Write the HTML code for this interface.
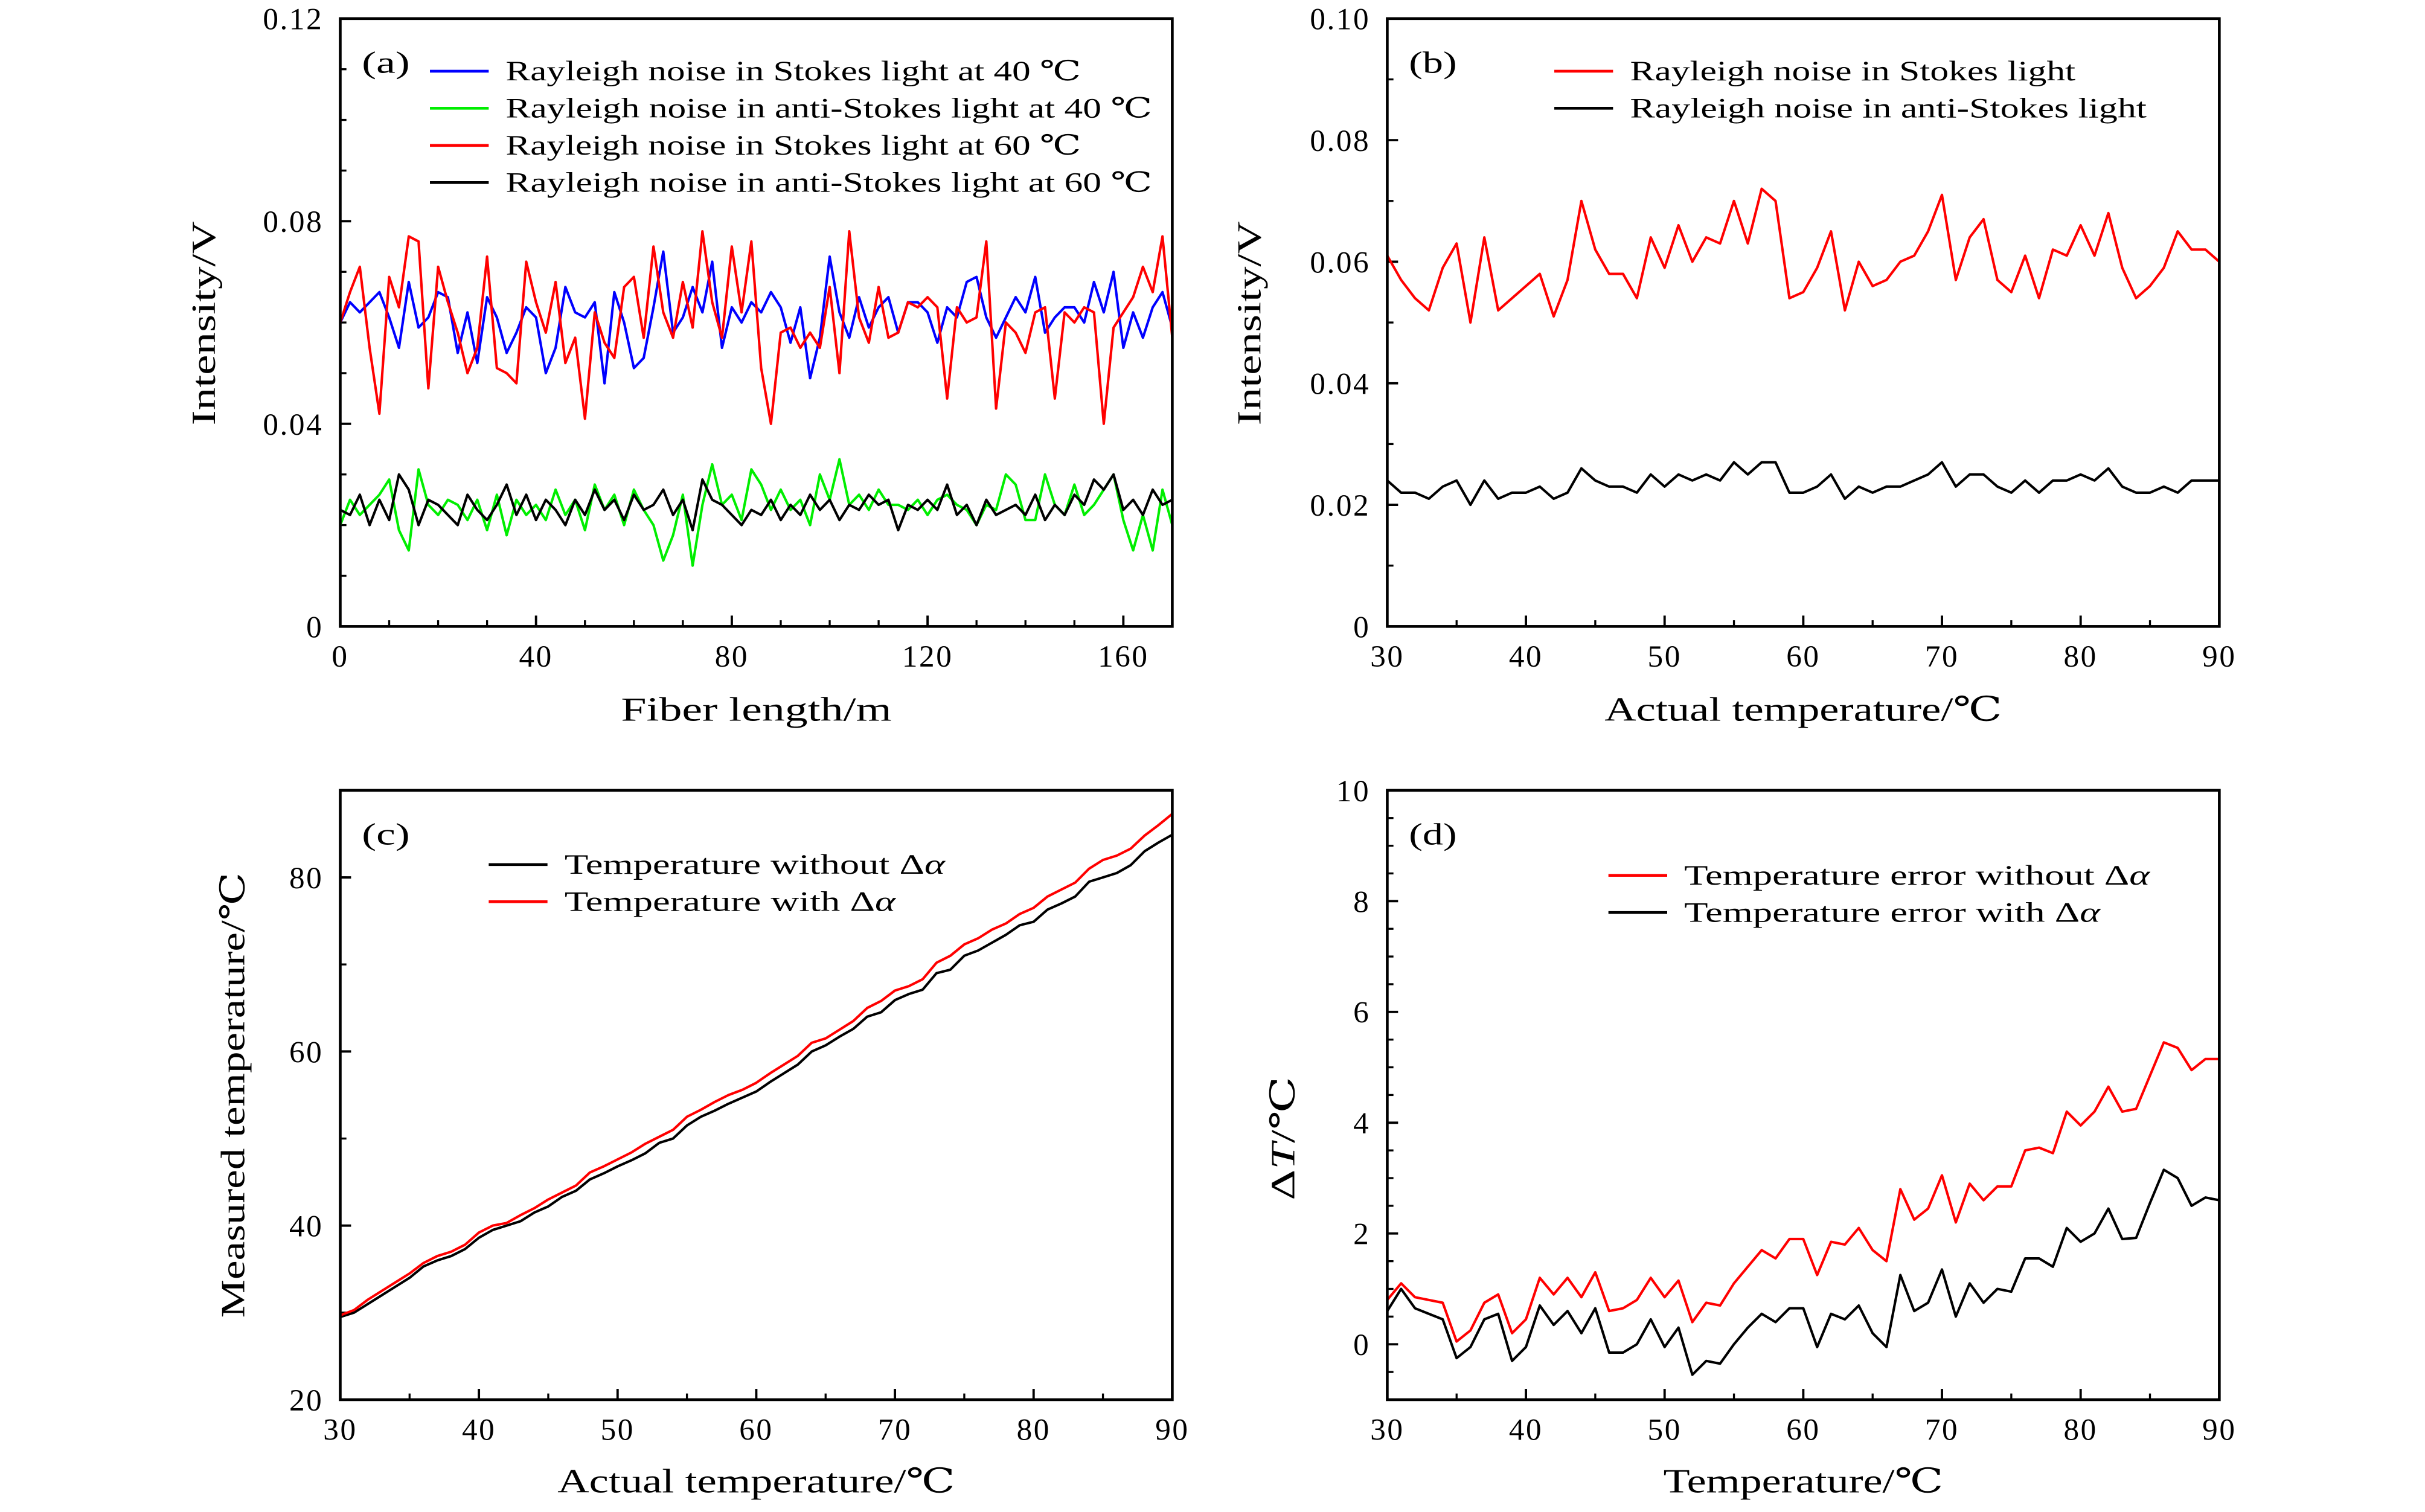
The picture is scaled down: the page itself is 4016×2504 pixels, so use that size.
<!DOCTYPE html>
<html><head><meta charset="utf-8"><style>
html,body{margin:0;padding:0;background:#fff;}
svg{display:block;}
text{font-family:"Liberation Serif","DejaVu Serif",serif;fill:#000;}
</style></head><body>
<svg id="fig" width="4016" height="2504" viewBox="0 0 1568 977.6" xmlns="http://www.w3.org/2000/svg"></svg>
<script>
// ---- Panel (a) data: fiber length 0..170 m ----
const aBlue=[0.060,0.064,0.062,0.064,0.066,0.061,0.055,0.068,0.059,0.061,0.066,0.065,0.054,0.062,0.052,0.065,0.061,0.054,0.058,0.063,0.061,0.050,0.055,0.067,0.062,0.061,0.064,0.048,0.066,0.060,0.051,0.053,0.063,0.074,0.058,0.061,0.067,0.062,0.072,0.055,0.063,0.060,0.064,0.062,0.066,0.063,0.056,0.063,0.049,0.057,0.073,0.062,0.057,0.065,0.059,0.063,0.065,0.058,0.064,0.064,0.062,0.056,0.063,0.061,0.068,0.069,0.061,0.057,0.061,0.065,0.062,0.069,0.058,0.061,0.063,0.063,0.060,0.068,0.062,0.070,0.055,0.062,0.057,0.063,0.066,0.059];
const aRed=[0.060,0.066,0.071,0.055,0.042,0.069,0.063,0.077,0.076,0.047,0.071,0.064,0.058,0.050,0.055,0.073,0.051,0.050,0.048,0.072,0.064,0.058,0.068,0.052,0.057,0.041,0.062,0.056,0.053,0.067,0.069,0.057,0.075,0.062,0.057,0.068,0.059,0.078,0.064,0.057,0.075,0.062,0.076,0.051,0.040,0.058,0.059,0.055,0.058,0.055,0.067,0.050,0.078,0.061,0.056,0.067,0.057,0.058,0.064,0.063,0.065,0.063,0.045,0.063,0.060,0.061,0.076,0.043,0.060,0.058,0.054,0.062,0.063,0.045,0.062,0.060,0.063,0.062,0.040,0.059,0.062,0.065,0.071,0.066,0.077,0.057];
const aGreen=[0.020,0.025,0.022,0.024,0.026,0.029,0.019,0.015,0.031,0.024,0.022,0.025,0.024,0.021,0.025,0.019,0.026,0.018,0.025,0.022,0.024,0.021,0.027,0.022,0.025,0.019,0.028,0.023,0.026,0.020,0.027,0.023,0.020,0.013,0.018,0.026,0.012,0.024,0.032,0.024,0.026,0.021,0.031,0.028,0.023,0.027,0.023,0.025,0.020,0.030,0.025,0.033,0.024,0.026,0.023,0.027,0.024,0.024,0.023,0.025,0.022,0.025,0.026,0.024,0.023,0.020,0.024,0.023,0.030,0.028,0.021,0.021,0.030,0.024,0.022,0.028,0.022,0.024,0.027,0.030,0.021,0.015,0.022,0.015,0.027,0.020];
const aBlack=[0.023,0.022,0.026,0.020,0.025,0.021,0.030,0.027,0.020,0.025,0.024,0.022,0.020,0.026,0.023,0.021,0.024,0.028,0.022,0.026,0.021,0.025,0.023,0.020,0.025,0.022,0.027,0.023,0.025,0.021,0.026,0.023,0.024,0.027,0.022,0.025,0.019,0.029,0.025,0.024,0.022,0.020,0.023,0.022,0.025,0.021,0.024,0.022,0.026,0.023,0.025,0.021,0.024,0.023,0.026,0.024,0.025,0.019,0.024,0.023,0.025,0.023,0.028,0.022,0.024,0.020,0.025,0.022,0.023,0.024,0.022,0.026,0.021,0.024,0.022,0.026,0.024,0.029,0.027,0.030,0.023,0.025,0.022,0.027,0.024,0.025];
const aXMax=170;
// ---- Panel (b) data: temperature 30..90 ----
const bRed=[0.061,0.057,0.054,0.052,0.059,0.063,0.050,0.064,0.052,0.054,0.056,0.058,0.051,0.057,0.070,0.062,0.058,0.058,0.054,0.064,0.059,0.066,0.060,0.064,0.063,0.070,0.063,0.072,0.070,0.054,0.055,0.059,0.065,0.052,0.060,0.056,0.057,0.060,0.061,0.065,0.071,0.057,0.064,0.067,0.057,0.055,0.061,0.054,0.062,0.061,0.066,0.061,0.068,0.059,0.054,0.056,0.059,0.065,0.062,0.062,0.060];
const bBlack=[0.024,0.022,0.022,0.021,0.023,0.024,0.020,0.024,0.021,0.022,0.022,0.023,0.021,0.022,0.026,0.024,0.023,0.023,0.022,0.025,0.023,0.025,0.024,0.025,0.024,0.027,0.025,0.027,0.027,0.022,0.022,0.023,0.025,0.021,0.023,0.022,0.023,0.023,0.024,0.025,0.027,0.023,0.025,0.025,0.023,0.022,0.024,0.022,0.024,0.024,0.025,0.024,0.026,0.023,0.022,0.022,0.023,0.022,0.024,0.024,0.024];
// ---- Panel (c) data ----
const cBlack=[29.5,30,31,32,33,34,35.3,36,36.5,37.3,38.6,39.5,40,40.5,41.5,42.2,43.3,44,45.3,46,46.8,47.5,48.3,49.5,50,51.5,52.5,53.2,54,54.7,55.4,56.5,57.5,58.5,60,60.7,61.7,62.6,64,64.5,65.9,66.6,67.1,69,69.4,71,71.6,72.5,73.4,74.5,74.9,76.3,77,77.8,79.5,80,80.5,81.4,83,84,84.9];
const cRed=[29.7,30.3,31.5,32.5,33.5,34.5,35.7,36.5,37,37.8,39.2,40,40.3,41.2,42,43,43.8,44.6,46.1,46.8,47.6,48.4,49.4,50.2,51,52.5,53.3,54.2,55,55.6,56.4,57.5,58.5,59.5,61,61.5,62.5,63.5,65,65.8,67,67.5,68.3,70.2,71,72.3,73,74,74.7,75.8,76.5,77.8,78.6,79.4,81,82,82.5,83.3,84.8,86,87.3];
// ---- Panel (d) data ----
const dRed=[0.8,1.1,0.85,0.8,0.75,0.05,0.25,0.75,0.9,0.2,0.45,1.2,0.9,1.2,0.85,1.3,0.6,0.65,0.8,1.2,0.85,1.15,0.4,0.75,0.7,1.1,1.4,1.7,1.55,1.9,1.9,1.25,1.85,1.8,2.1,1.7,1.5,2.8,2.25,2.45,3.05,2.2,2.9,2.6,2.85,2.85,3.5,3.55,3.45,4.2,3.95,4.2,4.65,4.2,4.25,4.85,5.45,5.35,4.95,5.15,5.15];
const dBlack=[0.6,1.0,0.65,0.55,0.45,-0.25,-0.05,0.45,0.55,-0.3,-0.05,0.7,0.35,0.6,0.2,0.65,-0.15,-0.15,0.0,0.45,-0.05,0.3,-0.55,-0.3,-0.35,0.0,0.3,0.55,0.4,0.65,0.65,-0.05,0.55,0.45,0.7,0.2,-0.05,1.25,0.6,0.75,1.35,0.5,1.1,0.75,1.0,0.95,1.55,1.55,1.4,2.1,1.85,2.0,2.45,1.9,1.92,2.55,3.15,3.0,2.5,2.65,2.6];
const tStart=30;
const aXTicks=[0,40,80,120,160], aYTicks=[0,0.04,0.08,0.12], aYLabels=["0","0.04","0.08","0.12"];
const bXTicks=[30,40,50,60,70,80,90], bYTicks=[0,0.02,0.04,0.06,0.08,0.1], bYLabels=["0","0.02","0.04","0.06","0.08","0.10"];
const cYTicks=[20,40,60,80], dYTicks=[0,2,4,6,8,10];

const NS="http://www.w3.org/2000/svg";
const svg=document.getElementById('fig');
function el(tag,attrs,parent){const e=document.createElementNS(NS,tag);for(const k in attrs)e.setAttribute(k,attrs[k]);(parent||svg).appendChild(e);return e;}
function txt(s,attrs,parent){const t=el('text',attrs,parent);t.textContent=s;return t;}

function panel(cfg){
  const g=el('g',{});
  
  
  const {x0,x1,y0,y1,xmin,xmax,ymin,ymax}=cfg;
  const sx=v=>x0+(v-xmin)/(xmax-xmin)*(x1-x0);
  const sy=v=>y1-(v-ymin)/(ymax-ymin)*(y1-y0);
  for(let v=xmin;v<=xmax+1e-9;v+=cfg.xMinor){const t=el('line',{x1:sx(v),x2:sx(v),y1:y1,y2:y1-4,stroke:'#000','stroke-width':1.3},g);}
  for(let v=ymin;v<=ymax+1e-9;v+=cfg.yMinor){const t=el('line',{x1:x0,x2:x0+4,y1:sy(v),y2:sy(v),stroke:'#000','stroke-width':1.3},g);}
  cfg.xTicks.forEach((v,i)=>{
    const t=el('line',{x1:sx(v),x2:sx(v),y1:y1,y2:y1-7,stroke:'#000','stroke-width':1.5},g);
    
    const l=txt(cfg.xLabels?cfg.xLabels[i]:String(v),{x:sx(v),y:y1+26,'font-size':20,'text-anchor':'middle','letter-spacing':1},g);
    
  });
  cfg.yTicks.forEach((v,i)=>{
    const t=el('line',{x1:x0,x2:x0+7,y1:sy(v),y2:sy(v),stroke:'#000','stroke-width':1.5},g);
    
    const l=txt(cfg.yLabels?cfg.yLabels[i]:String(v),{x:x0-11,y:sy(v)+7,'font-size':20,'text-anchor':'end','letter-spacing':1},g);
    
  });
  const clip='clip-'+cfg.name;
  const cp=el('clipPath',{id:clip},g);el('rect',{x:x0,y:y0,width:x1-x0,height:y1-y0},cp);
  cfg.series.forEach(s=>{
    const n=s.data.length;
    const pts=s.data.map((v,i)=>sx(s.xs(i,n))+','+sy(v)).join(' ');
    const p=el('polyline',{points:pts,fill:'none',stroke:s.color,'stroke-width':1.6,'stroke-linejoin':'round','clip-path':'url(#'+clip+')'},g);
    
  });
  const fr=el('rect',{x:x0,y:y0,width:x1-x0,height:y1-y0,fill:'none',stroke:'#000','stroke-width':1.8},g);
  
  const lab=txt(cfg.label,{x:x0+14,y:y0+35,'font-size':20,textLength:31,lengthAdjust:'spacingAndGlyphs'},g);
  
  cfg.legend.forEach((e,i)=>{
    const y=cfg.legY+i*24;
    const ln=el('line',{x1:cfg.legX,x2:cfg.legX+38,y1:y,y2:y,stroke:e.color,'stroke-width':1.8},g);
    
    const t=el('text',{x:cfg.legX+49,y:y+6,'font-size':18,textLength:e.w,lengthAdjust:'spacingAndGlyphs'},g);
    t.innerHTML=e.text;
    
  });
  const xt=el('text',{x:(x0+x1)/2-cfg.xTitleW/2,y:cfg.xTitleY,'font-size':22,textLength:cfg.xTitleW,lengthAdjust:'spacingAndGlyphs'},g);
  xt.innerHTML=cfg.xTitle;
  const yt=el('text',{x:-cfg.yTitleW/2,y:0,'font-size':22,textLength:cfg.yTitleW,lengthAdjust:'spacingAndGlyphs',transform:`translate(${cfg.yTitleX},${cfg.yTitleC||(y0+y1)/2}) rotate(-90)`},g);
  yt.innerHTML=cfg.yTitle;
}
const aXs=(i,n)=>i*aXMax/(n-1);
const tXs=(i,n)=>tStart+i;
panel({name:'panel-a',label:'(a)',x0:220,x1:758,y0:12,y1:405,xmin:0,xmax:170,ymin:0,ymax:0.12,xMinor:10,yMinor:0.01,
 xTicks:aXTicks,yTicks:aYTicks,yLabels:aYLabels,
 series:[{name:'blue-stokes-40',color:'#0000ff',data:aBlue,xs:aXs},{name:'green-antistokes-40',color:'#00ee00',data:aGreen,xs:aXs},{name:'red-stokes-60',color:'#ff0000',data:aRed,xs:aXs},{name:'black-antistokes-60',color:'#000',data:aBlack,xs:aXs}],
 legX:278,legY:46,legend:[{color:'#0000ff',w:372,text:'Rayleigh noise in Stokes light at 40 ℃'},{color:'#00ee00',w:418,text:'Rayleigh noise in anti-Stokes light at 40 ℃'},{color:'#ff0000',w:372,text:'Rayleigh noise in Stokes light at 60 ℃'},{color:'#000',w:418,text:'Rayleigh noise in anti-Stokes light at 60 ℃'}],
 xTitle:'Fiber length/m',xTitleW:175,xTitleY:466,yTitle:'Intensity/V',yTitleW:132,yTitleX:139,yTitleC:209});
panel({name:'panel-b',label:'(b)',x0:897,x1:1435,y0:12,y1:405,xmin:30,xmax:90,ymin:0,ymax:0.1,xMinor:5,yMinor:0.01,
 xTicks:bXTicks,yTicks:bYTicks,yLabels:bYLabels,
 series:[{name:'red-stokes',color:'#ff0000',data:bRed,xs:tXs},{name:'black-antistokes',color:'#000',data:bBlack,xs:tXs}],
 legX:1005,legY:46,legend:[{color:'#ff0000',w:288,text:'Rayleigh noise in Stokes light'},{color:'#000',w:334,text:'Rayleigh noise in anti-Stokes light'}],
 xTitle:'Actual temperature/℃',xTitleW:257,xTitleY:466,yTitle:'Intensity/V',yTitleW:132,yTitleX:815,yTitleC:209});
panel({name:'panel-c',label:'(c)',x0:220,x1:758,y0:511,y1:905,xmin:30,xmax:90,ymin:20,ymax:90,xMinor:5,yMinor:10,
 xTicks:bXTicks,yTicks:cYTicks,
 series:[{name:'black-without-dalpha',color:'#000',data:cBlack,xs:tXs},{name:'red-with-dalpha',color:'#ff0000',data:cRed,xs:tXs}],
 legX:316,legY:559,legend:[{color:'#000',w:246,text:'Temperature without Δ<tspan font-style="italic">α</tspan>'},{color:'#ff0000',w:214,text:'Temperature with Δ<tspan font-style="italic">α</tspan>'}],
 xTitle:'Actual temperature/℃',xTitleW:257,xTitleY:965,yTitle:'Measured temperature/℃',yTitleW:288,yTitleX:158,yTitleC:708});
panel({name:'panel-d',label:'(d)',x0:897,x1:1435,y0:511,y1:905,xmin:30,xmax:90,ymin:-1,ymax:10,xMinor:5,yMinor:0.5,
 xTicks:bXTicks,yTicks:dYTicks,
 series:[{name:'red-error-without-dalpha',color:'#ff0000',data:dRed,xs:tXs},{name:'black-error-with-dalpha',color:'#000',data:dBlack,xs:tXs}],
 legX:1040,legY:566,legend:[{color:'#ff0000',w:301,text:'Temperature error without Δ<tspan font-style="italic">α</tspan>'},{color:'#000',w:269,text:'Temperature error with Δ<tspan font-style="italic">α</tspan>'}],
 xTitle:'Temperature/℃',xTitleW:181,xTitleY:965,yTitle:'Δ<tspan font-style="italic">T</tspan>/℃',yTitleW:80,yTitleX:837,yTitleC:736});
</script>
</body></html>
